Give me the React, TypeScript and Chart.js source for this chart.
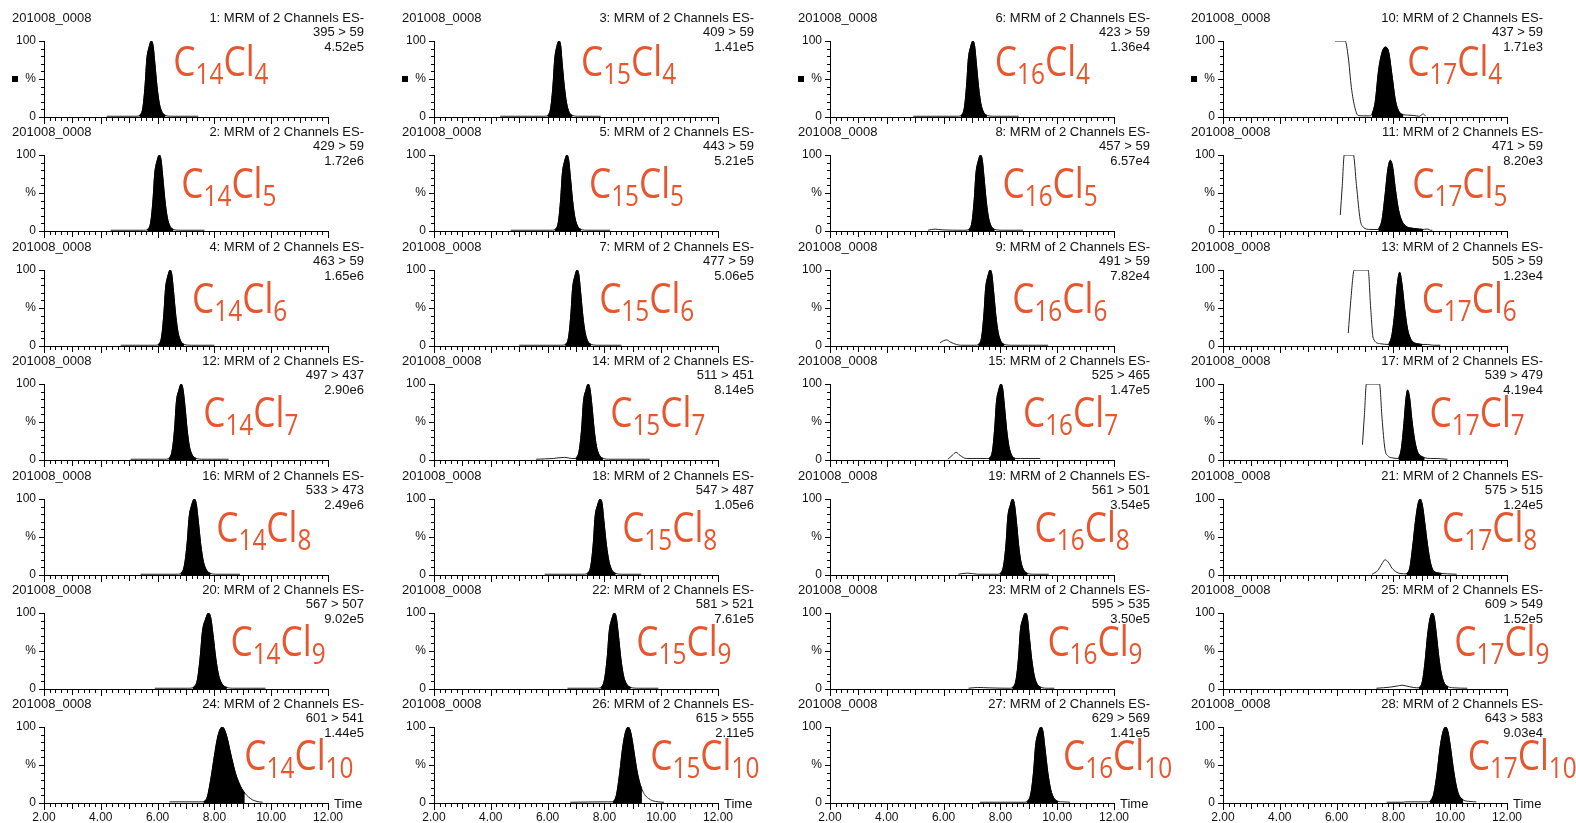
import React, { useEffect, useRef } from "react";
import { Chart, registerables } from "chart.js";

Chart.register(...registerables);

type Pt = [number, number];

// ---- run / channel annotations ----
const runName = "201008_0008";
const carbonCounts = [14, 15, 16, 17];
const chlorineCounts = [4, 5, 6, 7, 8, 9, 10];
const timeRange = [2, 12];
const timeLabelStep = 2;
const minorTimeStep = 0.2;

const functionC14 = [1, 2, 4, 12, 16, 20, 24];
const functionC15 = [3, 5, 7, 14, 18, 22, 26];
const functionC16 = [6, 8, 9, 15, 19, 23, 27];
const functionC17 = [10, 11, 13, 17, 21, 25, 28];

const transitionC14 = ["395 > 59", "429 > 59", "463 > 59", "497 > 437", "533 > 473", "567 > 507", "601 > 541"];
const transitionC15 = ["409 > 59", "443 > 59", "477 > 59", "511 > 451", "547 > 487", "581 > 521", "615 > 555"];
const transitionC16 = ["423 > 59", "457 > 59", "491 > 59", "525 > 465", "561 > 501", "595 > 535", "629 > 569"];
const transitionC17 = ["437 > 59", "471 > 59", "505 > 59", "539 > 479", "575 > 515", "609 > 549", "643 > 583"];

const intensityC14 = ["4.52e5", "1.72e6", "1.65e6", "2.90e6", "2.49e6", "9.02e5", "1.44e5"];
const intensityC15 = ["1.41e5", "5.21e5", "5.06e5", "8.14e5", "1.05e6", "7.61e5", "2.11e5"];
const intensityC16 = ["1.36e4", "6.57e4", "7.82e4", "1.47e5", "3.54e5", "3.50e5", "1.41e5"];
const intensityC17 = ["1.71e3", "8.20e3", "1.23e4", "4.19e4", "1.24e5", "1.52e5", "9.03e4"];

// ---- chromatogram traces: [retention time (min), relative intensity (%)] ----
const c14cl4: Pt[] = [[4.21,1],[5.2,1],[5.36,1.5],[5.48,12],[5.56,42],[5.62,76],[5.7,92],[5.78,100],[5.84,94],[5.9,72],[5.98,40],[6.06,18],[6.16,6],[6.28,2],[6.5,1],[7.43,1]];
const c14cl5: Pt[] = [[4.35,1],[5.5,1],[5.64,1.5],[5.76,12],[5.84,42],[5.9,76],[5.98,92],[6.06,100],[6.12,94],[6.18,72],[6.26,40],[6.34,18],[6.44,6],[6.56,2],[6.8,1],[7.65,1]];
const c14cl6: Pt[] = [[4.7,1],[5.9,1],[6.02,1.5],[6.14,12],[6.22,42],[6.28,76],[6.36,92],[6.44,100],[6.5,94],[6.56,72],[6.64,40],[6.72,18],[6.82,6],[6.94,2],[7.2,1],[8.0,1]];
const c14cl7: Pt[] = [[5.05,1],[6.25,1],[6.39,1.5],[6.51,12],[6.6,42],[6.66,76],[6.75,92],[6.83,100],[6.89,94],[6.96,72],[7.04,40],[7.12,18],[7.23,6],[7.36,2],[7.6,1],[8.5,1]];
const c14cl8: Pt[] = [[5.4,1],[6.65,1],[6.81,1.5],[6.94,12],[7.04,42],[7.11,76],[7.2,92],[7.29,100],[7.36,94],[7.43,72],[7.52,40],[7.61,18],[7.73,6],[7.87,2],[8.1,1],[8.9,1]];
const c14cl9: Pt[] = [[5.9,1],[7.05,1],[7.24,1.5],[7.4,12],[7.5,42],[7.58,76],[7.69,92],[7.79,100],[7.87,94],[7.95,72],[8.05,40],[8.15,18],[8.28,6],[8.44,2],[8.7,1],[9.8,1]];
const c14cl10: Pt[] = [[6.42,1.5],[7.45,1.5],[7.62,1.5],[7.75,8],[7.88,33],[8.0,62],[8.1,84],[8.2,97],[8.28,100],[8.36,96],[8.46,84],[8.56,67],[8.66,51],[8.76,37],[8.86,27],[8.96,19],[9.07,13],[9.2,8],[9.35,4],[9.5,2],[9.7,1]];

const c15cl4: Pt[] = [[4.33,1],[5.85,1],[6.0,1.5],[6.11,12],[6.19,42],[6.25,76],[6.32,92],[6.4,100],[6.46,94],[6.51,72],[6.59,40],[6.67,18],[6.76,6],[6.88,2],[7.1,1],[7.87,1]];
const c15cl5: Pt[] = [[4.7,1],[6.1,1],[6.26,1.5],[6.38,12],[6.46,42],[6.52,76],[6.6,92],[6.68,100],[6.74,94],[6.8,72],[6.88,40],[6.96,18],[7.06,6],[7.18,2],[7.4,1],[8.2,1]];
const c15cl6: Pt[] = [[5.0,1],[6.45,1],[6.62,1.5],[6.74,12],[6.82,42],[6.88,76],[6.96,92],[7.04,100],[7.1,94],[7.16,72],[7.24,40],[7.32,18],[7.42,6],[7.54,2],[7.8,1],[8.6,1]];
const c15cl7: Pt[] = [[5.6,1],[6.2,2],[6.6,3.5],[6.85,2],[6.99,2],[7.11,12],[7.2,42],[7.26,76],[7.35,92],[7.43,100],[7.49,94],[7.56,72],[7.64,40],[7.72,18],[7.83,6],[7.96,2],[8.2,1],[9.6,1]];
const c15cl8: Pt[] = [[5.9,1],[7.2,1],[7.39,1.5],[7.52,12],[7.61,42],[7.67,76],[7.76,92],[7.85,100],[7.92,94],[7.98,72],[8.07,40],[8.16,18],[8.27,6],[8.4,2],[8.65,1],[9.3,1]];
const c15cl9: Pt[] = [[6.7,1],[7.7,1],[7.87,1.5],[8.0,12],[8.1,42],[8.17,76],[8.26,92],[8.35,100],[8.42,94],[8.49,72],[8.58,40],[8.67,18],[8.79,6],[8.93,2],[9.2,1],[9.9,1]];
const c15cl10: Pt[] = [[6.8,1],[8.1,1.5],[8.3,1.5],[8.42,10],[8.54,40],[8.64,72],[8.74,93],[8.84,100],[8.92,94],[9.0,78],[9.08,58],[9.16,40],[9.24,27],[9.32,18],[9.42,11],[9.55,6],[9.7,3],[9.9,1.5],[10.1,1]];

const c16cl4: Pt[] = [[4.93,1],[6.45,1],[6.61,1.5],[6.73,12],[6.81,42],[6.87,76],[6.95,92],[7.03,100],[7.09,94],[7.15,72],[7.23,40],[7.31,18],[7.41,6],[7.53,2],[7.8,1],[8.64,1]];
const c16cl5: Pt[] = [[5.45,1],[5.7,2.5],[5.95,1.5],[6.7,1],[6.88,1.5],[7.0,12],[7.08,42],[7.14,76],[7.22,92],[7.3,100],[7.36,94],[7.42,72],[7.5,40],[7.58,18],[7.68,6],[7.8,2],[8.1,1],[8.8,1]];
const c16cl6: Pt[] = [[5.87,4],[6.0,7],[6.11,8],[6.25,5],[6.45,2],[6.6,1],[7.1,1],[7.22,1.5],[7.34,12],[7.42,42],[7.48,76],[7.56,92],[7.64,100],[7.7,94],[7.76,72],[7.84,40],[7.92,18],[8.02,6],[8.14,2],[8.4,1],[9.68,1]];
const c16cl7: Pt[] = [[6.15,1],[6.3,6],[6.44,10],[6.58,6],[6.8,2],[7.5,2],[7.6,2],[7.72,12],[7.8,42],[7.86,76],[7.94,92],[8.02,100],[8.08,94],[8.14,72],[8.22,40],[8.3,18],[8.4,6],[8.52,2],[8.7,2],[9.4,2]];
const c16cl8: Pt[] = [[6.52,1],[6.85,2.5],[7.2,1],[7.85,1],[7.99,1.5],[8.11,12],[8.2,42],[8.26,76],[8.35,92],[8.43,100],[8.49,94],[8.56,72],[8.64,40],[8.72,18],[8.83,6],[8.96,2],[9.2,1],[9.7,1]];
const c16cl9: Pt[] = [[6.88,1],[7.2,2],[7.6,1.5],[8.3,1],[8.42,1.5],[8.55,12],[8.64,42],[8.7,76],[8.79,92],[8.88,100],[8.95,94],[9.01,72],[9.1,40],[9.19,18],[9.3,6],[9.43,2],[9.7,1],[9.9,1]];
const c16cl10: Pt[] = [[7.28,1],[8.8,1],[8.93,1.5],[9.07,12],[9.17,42],[9.24,76],[9.33,92],[9.43,100],[9.5,94],[9.57,72],[9.67,40],[9.77,18],[9.89,6],[10.03,2],[10.2,1.5],[10.45,1]];

const c17cl4: Pt[] = [[5.94,100],[6.3,100],[6.41,79],[6.52,39],[6.64,13],[6.76,2],[6.95,1.5],[7.15,1.5],[7.24,3],[7.36,20],[7.48,62],[7.6,85],[7.71,92],[7.83,86],[7.95,55],[8.07,22],[8.2,7],[8.35,3],[8.5,2.5],[8.72,2],[8.9,1],[9.0,3],[9.05,4],[9.14,1]];
const c17cl5: Pt[] = [[6.13,21],[6.2,60],[6.27,100],[6.59,100],[6.7,60],[6.83,15],[6.94,5],[7.18,2],[7.47,2],[7.6,15],[7.7,45],[7.8,80],[7.89,93],[7.97,85],[8.07,55],[8.18,28],[8.3,13],[8.45,6],[8.6,4],[8.8,3],[9.05,2],[9.15,2.5],[9.22,2.5],[9.3,1],[9.37,1]];
const c17cl6: Pt[] = [[6.41,17],[6.5,60],[6.62,100],[7.11,100],[7.2,50],[7.29,10],[7.54,3],[7.83,2],[7.95,15],[8.05,45],[8.14,82],[8.22,97],[8.3,82],[8.4,48],[8.5,22],[8.6,10],[8.7,5],[8.85,3],[9.02,2],[9.2,2],[9.3,1.5],[9.45,1],[9.65,1]];
const c17cl7: Pt[] = [[6.91,20],[6.98,60],[7.05,100],[7.51,100],[7.6,55],[7.7,15],[7.82,5],[7.94,3],[8.18,2],[8.28,15],[8.37,48],[8.44,80],[8.5,92],[8.57,82],[8.66,50],[8.76,24],[8.86,10],[8.98,5],[9.1,3],[9.3,2],[9.5,2],[9.7,1.5],[9.9,1]];
const c17cl8: Pt[] = [[7.25,1],[7.45,6],[7.6,15],[7.7,20],[7.82,17],[7.95,9],[8.1,4],[8.23,2],[8.46,1.5],[8.58,10],[8.68,38],[8.78,72],[8.87,94],[8.94,100],[9.02,92],[9.1,70],[9.2,40],[9.3,17],[9.4,6],[9.55,3],[9.7,2],[9.9,1.5],[10.23,1]];
const c17cl9: Pt[] = [[7.4,1],[7.9,2.5],[8.15,4],[8.3,5],[8.45,4],[8.7,2],[8.9,1.5],[9.02,10],[9.12,38],[9.2,70],[9.29,93],[9.37,100],[9.44,94],[9.51,73],[9.6,42],[9.69,20],[9.8,7],[9.93,3],[10.15,1.5],[10.6,1]];
const c17cl10: Pt[] = [[7.76,1],[8.35,1],[8.4,1.5],[9.2,1.5],[9.29,2],[9.42,12],[9.54,40],[9.64,72],[9.74,93],[9.84,100],[9.92,94],[10.0,76],[10.1,48],[10.2,25],[10.3,11],[10.46,4],[10.7,2],[10.92,1.5]];

// integrated (filled) retention windows, per carbon number, Cl4..Cl10
const areaC14: Pt[] = [[5.36,6.28],[5.64,6.56],[6.02,6.94],[6.39,7.36],[6.81,7.87],[7.24,8.44],[7.62,9.07]];
const areaC15: Pt[] = [[6.0,6.88],[6.26,7.18],[6.62,7.54],[6.99,7.96],[7.39,8.4],[7.87,8.93],[8.3,9.32]];
const areaC16: Pt[] = [[6.61,7.53],[6.88,7.8],[7.22,8.14],[7.6,8.52],[7.99,8.96],[8.42,9.43],[8.93,10.03]];
const areaC17: Pt[] = [[7.24,8.35],[7.47,9.05],[7.83,9.02],[8.18,9.1],[8.46,9.7],[8.9,9.93],[9.29,10.46]];

const tracesC14 = [c14cl4, c14cl5, c14cl6, c14cl7, c14cl8, c14cl9, c14cl10];
const tracesC15 = [c15cl4, c15cl5, c15cl6, c15cl7, c15cl8, c15cl9, c15cl10];
const tracesC16 = [c16cl4, c16cl5, c16cl6, c16cl7, c16cl8, c16cl9, c16cl10];
const tracesC17 = [c17cl4, c17cl5, c17cl6, c17cl7, c17cl8, c17cl9, c17cl10];

// ---- page geometry ----
const pageW = 1576;
const pageH = 823;
const axisLeft = [44, 434, 830, 1223];
const rowPitch = 114.4;
const plotW = 284;
const plotTop = 41;
const plotBottom = 117;
const labelBase = [76, 84, 84, 84, 84, 84, 84];

const FONT = '"Liberation Sans", Arial, Helvetica, sans-serif';
const LABEL_FONT = '"Open Sans", "Noto Sans", sans-serif';
const ORANGE = "#E8562E";
const INK = "#111";

type PanelSpec = {
  col: number;
  row: number;
  trace: Pt[];
  area: Pt;
  fn: number;
  transition: string;
  intensity: string;
  carbons: number;
  chlorines: number;
};

const columns = [
  { traces: tracesC14, areas: areaC14, fns: functionC14, trs: transitionC14, ints: intensityC14 },
  { traces: tracesC15, areas: areaC15, fns: functionC15, trs: transitionC15, ints: intensityC15 },
  { traces: tracesC16, areas: areaC16, fns: functionC16, trs: transitionC16, ints: intensityC16 },
  { traces: tracesC17, areas: areaC17, fns: functionC17, trs: transitionC17, ints: intensityC17 },
];

const panels: PanelSpec[] = [];
columns.forEach((c, col) => {
  chlorineCounts.forEach((cl, row) => {
    panels.push({
      col,
      row,
      trace: c.traces[row],
      area: c.areas[row],
      fn: c.fns[row],
      transition: c.trs[row],
      intensity: c.ints[row],
      carbons: carbonCounts[col],
      chlorines: cl,
    });
  });
});

function panelBox(p: PanelSpec) {
  const left = axisLeft[p.col] - 44;
  const top = Math.round(p.row * rowPitch);
  const width = p.col === 3 ? pageW - left : 400;
  const height = p.row === 6 ? pageH - top : 130;
  return { left, top, width, height };
}

function makeDecor(p: PanelSpec, isBottom: boolean) {
  return {
    id: "chromDecor",
    afterDraw(chart: any) {
      const { ctx, chartArea, scales } = chart;
      const xs = scales.x;
      const ys = scales.y;
      ctx.save();

      // minor / major tick marks on both axes
      ctx.strokeStyle = "#000";
      ctx.lineWidth = 1;
      ctx.beginPath();
      const nSteps = Math.round((timeRange[1] - timeRange[0]) / minorTimeStep);
      for (let i = 0; i <= nSteps; i++) {
        const t = timeRange[0] + i * minorTimeStep;
        const px = Math.round(xs.getPixelForValue(t)) + 0.5;
        const len = i % 10 === 0 ? 6 : i % 5 === 0 ? 5 : 3;
        ctx.moveTo(px, chartArea.bottom);
        ctx.lineTo(px, chartArea.bottom + len + 1);
      }
      for (let v = 0; v <= 100; v += 10) {
        const py = Math.round(ys.getPixelForValue(v)) + 0.5;
        const len = v % 50 === 0 ? 5 : 3;
        ctx.moveTo(chartArea.left, py);
        ctx.lineTo(chartArea.left - len, py);
      }
      ctx.stroke();

      // header lines
      ctx.fillStyle = INK;
      ctx.font = `13px ${FONT}`;
      ctx.textBaseline = "middle";
      ctx.textAlign = "left";
      ctx.fillText(runName, chartArea.left - 32, 18);
      ctx.textAlign = "right";
      const rx = chartArea.right + 36;
      ctx.fillText(`${p.fn}: MRM of 2 Channels ES-`, rx, 18);
      ctx.fillText(p.transition, rx, 32.5);
      ctx.fillText(p.intensity, rx, 47);

      if (p.row === 0) {
        ctx.fillStyle = "#000";
        ctx.fillRect(chartArea.left - 32, 76, 6, 6);
      }

      if (isBottom) {
        ctx.fillStyle = INK;
        ctx.textAlign = "left";
        ctx.font = `13px ${FONT}`;
        ctx.fillText("Time", chartArea.right + 6, chartArea.bottom + 1);
      }

      // compound label next to the integrated peak apex
      let apexT = p.area[0];
      let apexY = -1;
      for (const [t, y] of p.trace) {
        if (t >= p.area[0] && t <= p.area[1] && y > apexY) {
          apexY = y;
          apexT = t;
        }
      }
      const lx = xs.getPixelForValue(apexT) + 22;
      const ly = labelBase[p.row];
      ctx.translate(lx, ly);
      ctx.scale(0.84, 1);
      ctx.fillStyle = ORANGE;
      ctx.textAlign = "left";
      ctx.textBaseline = "alphabetic";
      let cx = 0;
      const part = (txt: string, size: number, dy: number) => {
        ctx.font = `${size}px ${LABEL_FONT}`;
        ctx.fillText(txt, cx, dy);
        cx += ctx.measureText(txt).width;
      };
      part("C", 42, 0);
      part(String(p.carbons), 29, 8);
      part("Cl", 42, 0);
      part(String(p.chlorines), 29, 8);

      ctx.restore();
    },
  };
}

function buildChart(canvas: HTMLCanvasElement, p: PanelSpec) {
  const box = panelBox(p);
  const isBottom = p.row === chlorineCounts.length - 1;
  const tracePts = p.trace.map(([x, y]) => ({ x, y }));
  const areaPts = p.trace
    .filter(([x]) => x >= p.area[0] - 1e-9 && x <= p.area[1] + 1e-9)
    .map(([x, y]) => ({ x, y }));
  const tickFont = { family: FONT, size: 12 };

  return new Chart(canvas, {
    type: "line",
    data: {
      datasets: [
        {
          data: areaPts,
          fill: "origin",
          backgroundColor: "#000",
          borderColor: "#000",
          borderWidth: 1,
          pointRadius: 0,
          cubicInterpolationMode: "monotone",
        },
        {
          data: tracePts,
          fill: false,
          borderColor: "#222",
          borderWidth: 1,
          pointRadius: 0,
          cubicInterpolationMode: "monotone",
        },
      ],
    },
    options: {
      animation: false,
      responsive: false,
      maintainAspectRatio: false,
      devicePixelRatio: 1,
      events: [],
      layout: { padding: { left: 0, top: plotTop, right: box.width - 44 - plotW, bottom: 0 } },
      plugins: { legend: { display: false }, tooltip: { enabled: false } },
      scales: {
        x: {
          type: "linear",
          min: timeRange[0],
          max: timeRange[1],
          afterFit: (s: any) => {
            s.height = box.height - plotBottom;
          },
          grid: { display: false, drawTicks: true, tickLength: 5 },
          border: { display: true, color: "#000", width: 1 },
          ticks: {
            display: isBottom,
            stepSize: timeLabelStep,
            autoSkip: false,
            maxRotation: 0,
            padding: 2,
            color: INK,
            font: tickFont,
            callback: (v: any) => Number(v).toFixed(2),
          },
        },
        y: {
          type: "linear",
          min: 0,
          max: 100,
          afterFit: (s: any) => {
            s.width = 44;
          },
          grid: { display: false, drawTicks: true, tickLength: 5 },
          border: { display: true, color: "#000", width: 1 },
          ticks: {
            stepSize: 10,
            autoSkip: false,
            padding: 3,
            color: INK,
            font: tickFont,
            callback: (v: any) => (v === 100 ? "100" : v === 50 ? "%" : v === 0 ? "0" : ""),
          },
        },
      },
    },
    plugins: [makeDecor(p, isBottom)],
  } as any);
}

export default function App() {
  const refs = useRef<(HTMLCanvasElement | null)[]>([]);

  useEffect(() => {
    const charts = panels.map((p, i) => buildChart(refs.current[i]!, p));
    return () => charts.forEach((c) => c.destroy());
  }, []);

  return (
    <div
      style={{
        position: "absolute",
        left: 0,
        top: 0,
        width: pageW,
        height: pageH,
        overflow: "hidden",
        background: "#fff",
      }}
    >
      {panels.map((p, i) => {
        const b = panelBox(p);
        return (
          <canvas
            key={i}
            ref={(el) => {
              refs.current[i] = el;
            }}
            width={b.width}
            height={b.height}
            style={{ position: "absolute", left: b.left, top: b.top, width: b.width, height: b.height }}
          />
        );
      })}
    </div>
  );
}
